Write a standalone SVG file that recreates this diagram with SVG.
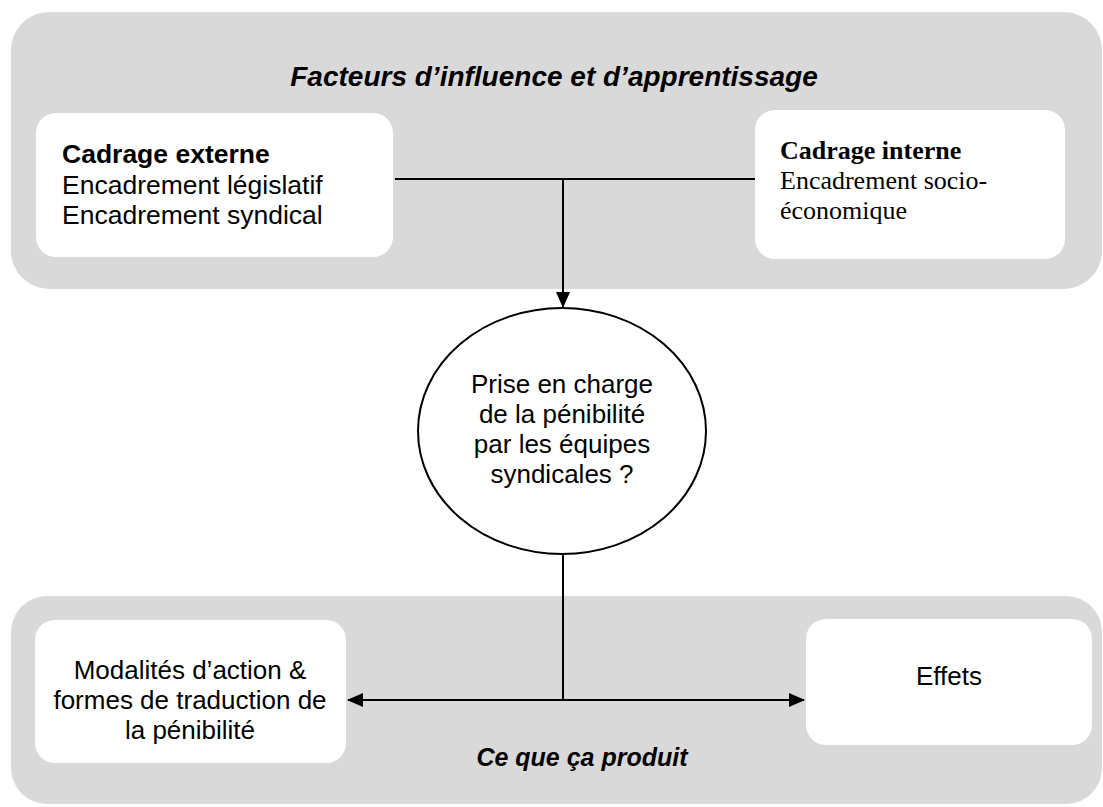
<svg xmlns="http://www.w3.org/2000/svg" width="1103" height="807" viewBox="0 0 1103 807">
  <style>
    .panel { fill: #d9d9d9; stroke: none; }
    .box { fill: #ffffff; stroke: none; }
    .line { stroke: #000000; stroke-width: 2; fill: none; }
    .sans { font-family: "Liberation Sans", Arial, sans-serif; font-size: 26px; fill: #000000; }
    .serif { font-family: "Liberation Serif", "Times New Roman", serif; font-size: 26px; fill: #000000; }
    .title { font-family: "Liberation Sans", Arial, sans-serif; font-size: 28px; font-weight: bold; font-style: italic; fill: #000000; }
    .b { font-weight: bold; }
  </style>
  <defs>
    <marker id="arrow" markerWidth="16" markerHeight="14" refX="15" refY="7" orient="auto" markerUnits="userSpaceOnUse">
      <path d="M0,0 L16,7 L0,14 Z" fill="#000000"/>
    </marker>
  </defs>

  <g id="panel-top">
    <rect class="panel" x="11" y="12" width="1091" height="277" rx="38" ry="38"/>
    <text class="title" x="554" y="86" text-anchor="middle">Facteurs d’influence et d’apprentissage</text>
  </g>

  <g id="panel-bottom">
    <rect class="panel" x="11" y="596" width="1091" height="208" rx="36" ry="36"/>
    <text class="title" x="582" y="766" text-anchor="middle" style="font-size:25px">Ce que ça produit</text>
  </g>

  <g id="cadrage-externe">
    <rect class="box" x="36" y="113" width="357" height="144" rx="20" ry="20"/>
    <text class="sans" x="62" y="163" style="font-size:26.5px"><tspan class="b">Cadrage externe</tspan></text>
    <text class="sans" x="62" y="194" style="font-size:26.5px">Encadrement législatif</text>
    <text class="sans" x="62" y="224" style="font-size:26.5px">Encadrement syndical</text>
  </g>

  <g id="cadrage-interne">
    <rect class="box" x="755" y="110" width="310" height="149" rx="20" ry="20"/>
    <text class="serif" x="780" y="159"><tspan class="b">Cadrage interne</tspan></text>
    <text class="serif" x="780" y="189">Encadrement socio-</text>
    <text class="serif" x="780" y="219">économique</text>
  </g>

  <g id="prise-en-charge">
    <ellipse cx="562" cy="431" rx="144" ry="123" fill="#ffffff" stroke="#000000" stroke-width="2"/>
    <text class="sans" x="562" y="393" text-anchor="middle">Prise en charge</text>
    <text class="sans" x="562" y="423" text-anchor="middle">de la pénibilité</text>
    <text class="sans" x="562" y="453" text-anchor="middle">par les équipes</text>
    <text class="sans" x="562" y="483" text-anchor="middle">syndicales ?</text>
  </g>

  <g id="modalites">
    <rect class="box" x="35" y="620" width="311" height="143" rx="20" ry="20"/>
    <text class="sans" x="190" y="679" text-anchor="middle">Modalités d’action &amp;</text>
    <text class="sans" x="190" y="709" text-anchor="middle">formes de traduction de</text>
    <text class="sans" x="190" y="739" text-anchor="middle">la pénibilité</text>
  </g>

  <g id="effets">
    <rect class="box" x="806" y="619" width="286" height="126" rx="20" ry="20"/>
    <text class="sans" x="949" y="685" text-anchor="middle">Effets</text>
  </g>

  <g id="connectors">
    <line class="line" x1="395" y1="179" x2="755" y2="179"/>
    <line class="line" x1="563" y1="179" x2="563" y2="307" marker-end="url(#arrow)"/>
    <line class="line" x1="563" y1="554" x2="563" y2="700"/>
    <line class="line" x1="563" y1="700" x2="348" y2="700" marker-end="url(#arrow)"/>
    <line class="line" x1="563" y1="700" x2="804" y2="700" marker-end="url(#arrow)"/>
  </g>
</svg>
